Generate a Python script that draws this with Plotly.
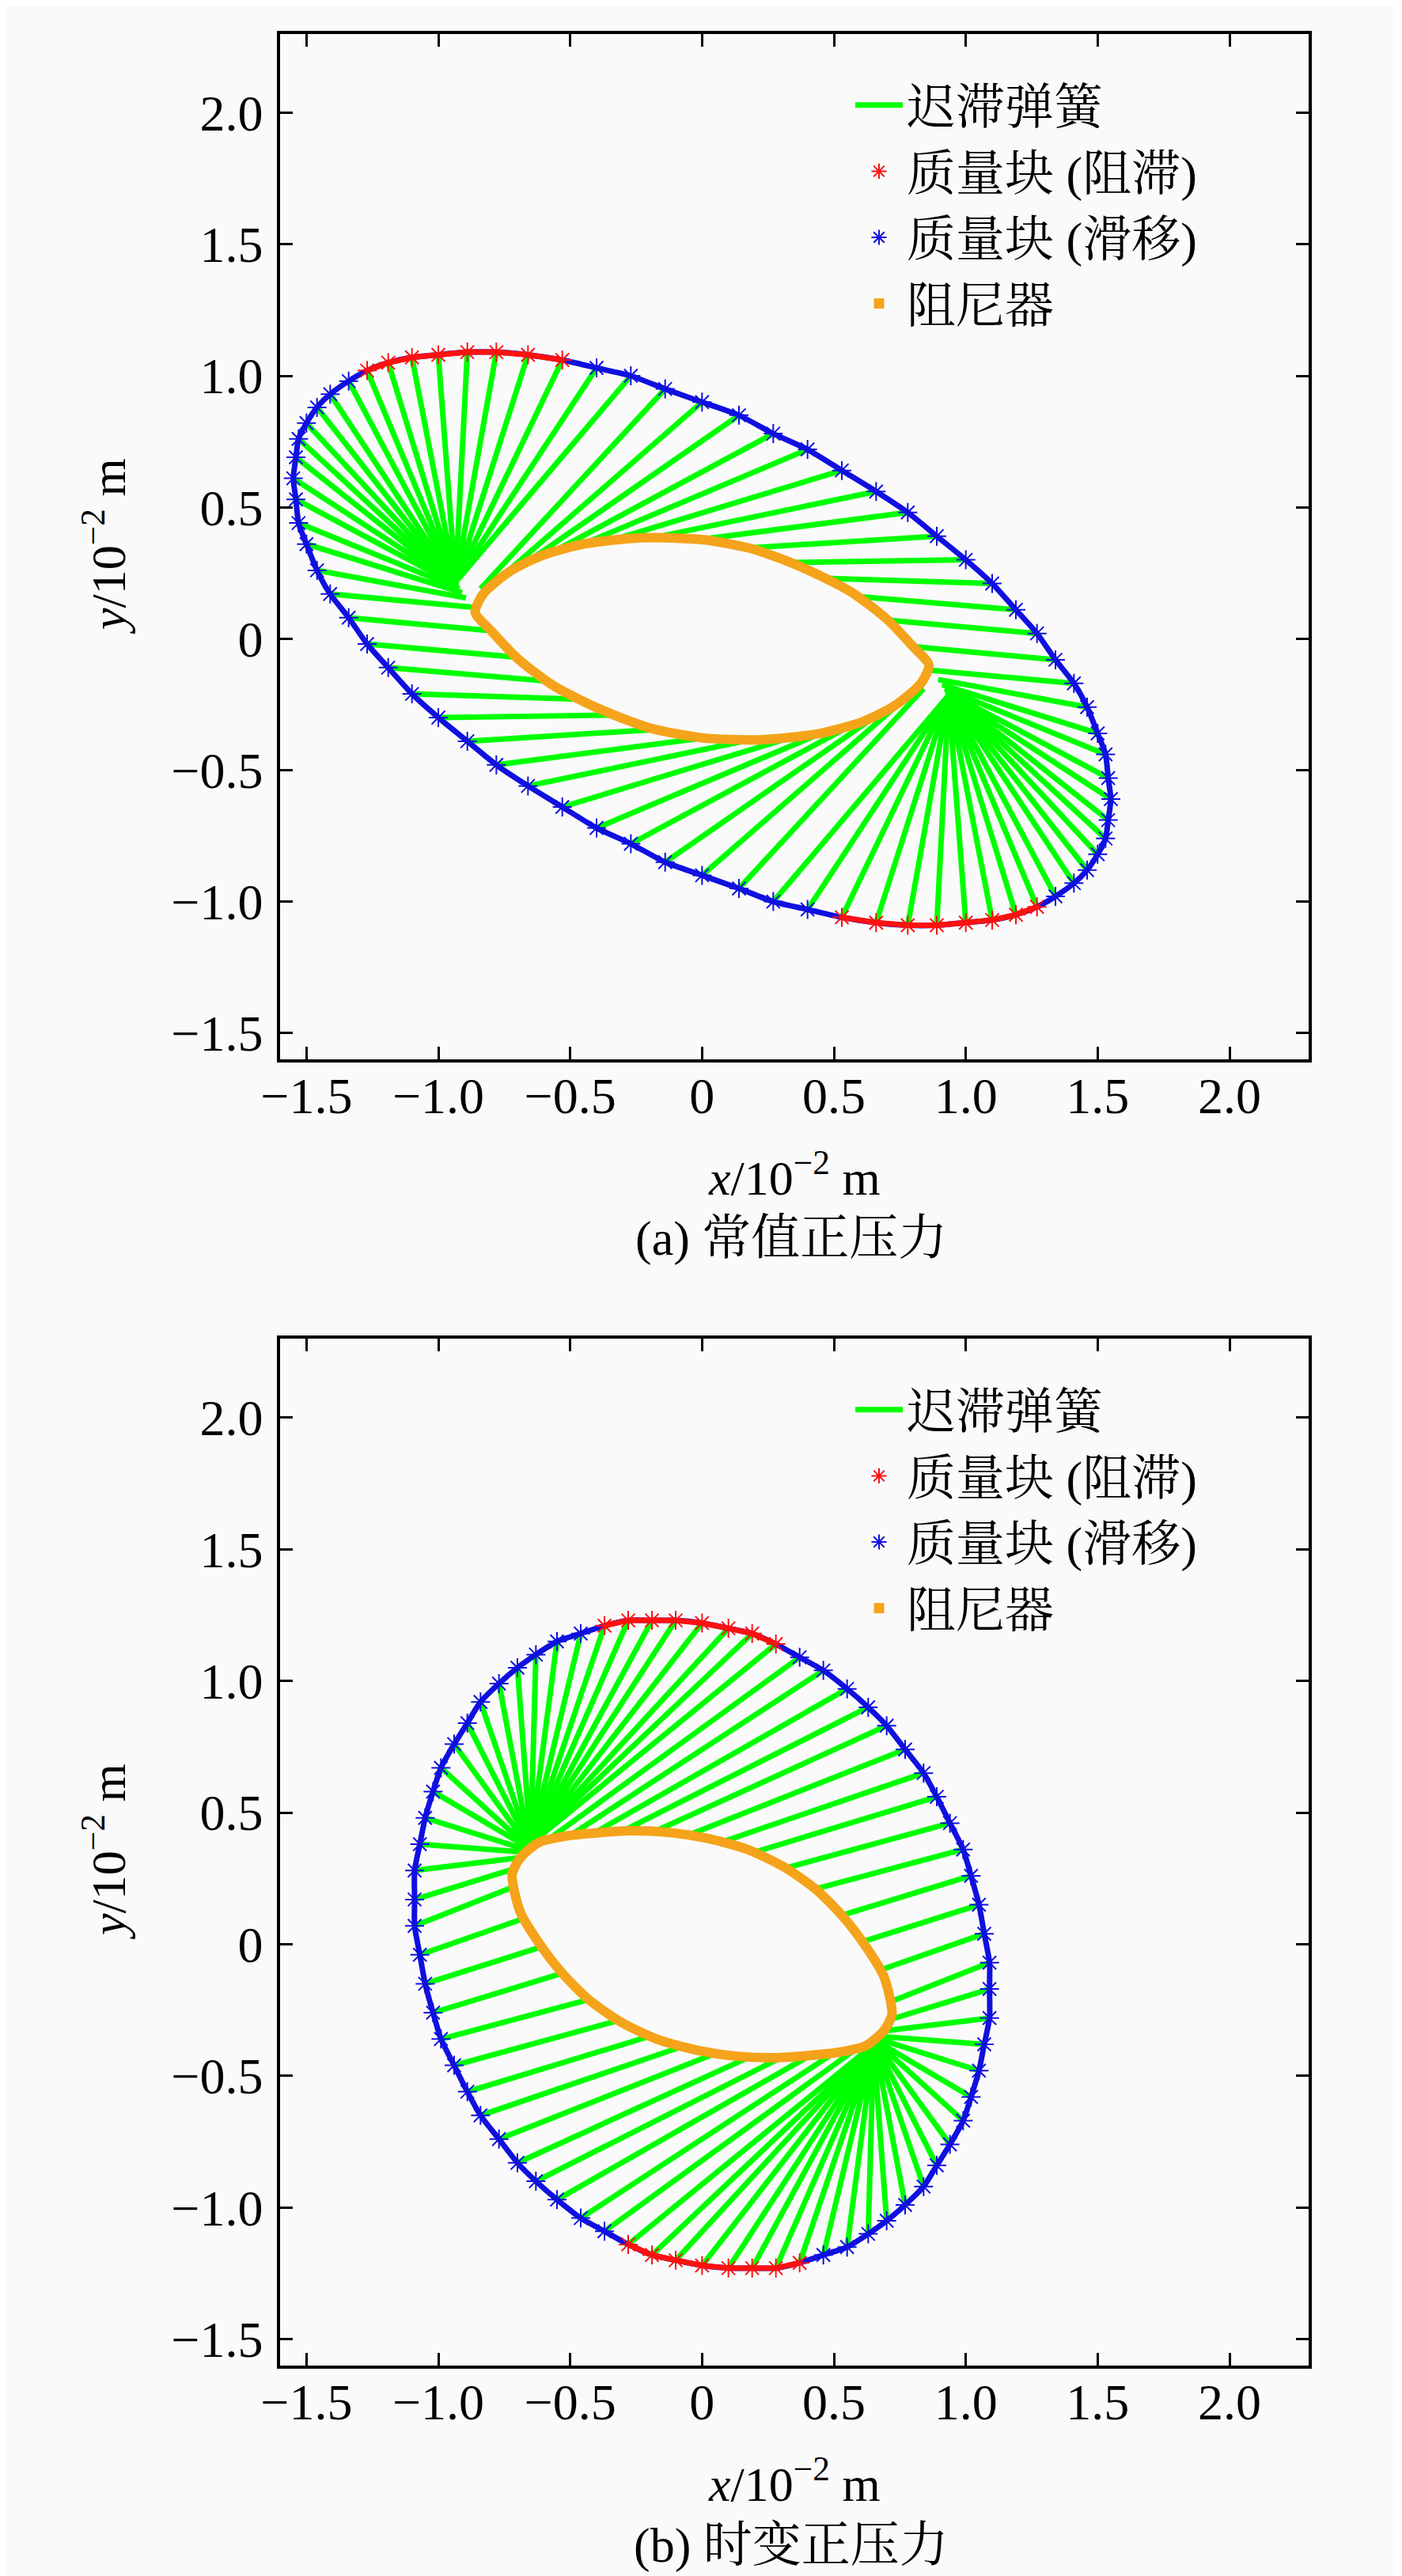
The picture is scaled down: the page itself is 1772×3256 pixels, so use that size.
import plotly.graph_objects as go

# (a) 常值正压力 —— 质量块轨迹, 顺时针, 每根弹簧一个点
a_mass_x = [-0.14, 0.00, 0.14, 0.27, 0.40, 0.53, 0.66, 0.78, 0.89, 1.00, 1.10, 1.19,
            1.27, 1.34, 1.41, 1.46, 1.50, 1.53, 1.54, 1.55, 1.54, 1.53, 1.50, 1.46,
            1.41, 1.34, 1.27, 1.19, 1.10, 1.00, 0.89, 0.78, 0.66, 0.53, 0.40, 0.27,
            0.14, 0.00, -0.14, -0.27, -0.40, -0.53, -0.66, -0.78, -0.89, -1.00, -1.10, -1.19,
            -1.27, -1.34, -1.41, -1.46, -1.50, -1.53, -1.54, -1.55, -1.54, -1.53, -1.50, -1.46,
            -1.41, -1.34, -1.27, -1.19, -1.10, -1.00, -0.89, -0.78, -0.66, -0.53, -0.40, -0.27]
a_mass_y = [0.95, 0.90, 0.85, 0.78, 0.72, 0.64, 0.56, 0.48, 0.39, 0.30, 0.21, 0.11,
            0.02, -0.08, -0.17, -0.26, -0.36, -0.44, -0.53, -0.61, -0.69, -0.76, -0.82, -0.88,
            -0.93, -0.98, -1.02, -1.05, -1.07, -1.08, -1.09, -1.09, -1.08, -1.06, -1.03, -1.00,
            -0.95, -0.90, -0.85, -0.78, -0.72, -0.64, -0.56, -0.48, -0.39, -0.30, -0.21, -0.11,
            -0.02, 0.08, 0.17, 0.26, 0.36, 0.44, 0.53, 0.61, 0.69, 0.76, 0.82, 0.88,
            0.93, 0.98, 1.02, 1.05, 1.07, 1.08, 1.09, 1.09, 1.08, 1.06, 1.03, 1.00]
# 1 = 阻滞, 0 = 滑移
a_stick = [0, 0, 0, 0, 0, 0, 0, 0, 0, 0, 0, 0, 0, 0, 0, 0, 0, 0, 0, 0, 0, 0, 0, 0,
           0, 0, 1, 1, 1, 1, 1, 1, 1, 1, 0, 0,
           0, 0, 0, 0, 0, 0, 0, 0, 0, 0, 0, 0, 0, 0, 0, 0, 0, 0, 0, 0, 0, 0, 0, 0,
           0, 0, 1, 1, 1, 1, 1, 1, 1, 1, 0, 0]
# 弹簧另一端
a_spring_x = [-0.84, -0.75, -0.665, -0.565, -0.45, -0.33, -0.18, -0.01, 0.17, 0.33, 0.47, 0.60,
              0.71, 0.80, 0.87, 0.895, 0.91, 0.92, 0.925, 0.93, 0.93, 0.935, 0.935, 0.935,
              0.935, 0.935, 0.935, 0.935, 0.935, 0.935, 0.935, 0.935, 0.935, 0.935, 0.935, 0.935,
              0.84, 0.75, 0.665, 0.565, 0.45, 0.33, 0.18, 0.01, -0.17, -0.33, -0.47, -0.60,
              -0.71, -0.80, -0.87, -0.895, -0.91, -0.92, -0.925, -0.93, -0.93, -0.935, -0.935, -0.935,
              -0.935, -0.935, -0.935, -0.935, -0.935, -0.935, -0.935, -0.935, -0.935, -0.935, -0.935, -0.935]
a_spring_y = [0.19, 0.245, 0.29, 0.33, 0.36, 0.378, 0.385, 0.377, 0.345, 0.29, 0.23, 0.16,
              0.07, -0.03, -0.12, -0.155, -0.175, -0.19, -0.20, -0.205, -0.205, -0.21, -0.21, -0.21,
              -0.21, -0.215, -0.215, -0.215, -0.215, -0.215, -0.215, -0.215, -0.215, -0.215, -0.215, -0.215,
              -0.19, -0.245, -0.29, -0.33, -0.36, -0.378, -0.385, -0.377, -0.345, -0.29, -0.23, -0.16,
              -0.07, 0.03, 0.12, 0.155, 0.175, 0.19, 0.20, 0.205, 0.205, 0.21, 0.21, 0.21,
              0.21, 0.215, 0.215, 0.215, 0.215, 0.215, 0.215, 0.215, 0.215, 0.215, 0.215, 0.215]
a_damper_x = [-0.86, -0.83, -0.73, -0.61, -0.45, -0.23, 0.00, 0.20, 0.38, 0.56, 0.70, 0.80, 0.86,
              0.83, 0.73, 0.61, 0.45, 0.23, 0.00, -0.20, -0.38, -0.56, -0.70, -0.80, -0.86]
a_damper_y = [0.10, 0.17, 0.255, 0.315, 0.36, 0.384, 0.377, 0.339, 0.271, 0.181, 0.075, -0.03, -0.10,
              -0.17, -0.255, -0.315, -0.36, -0.384, -0.377, -0.339, -0.271, -0.181, -0.075, 0.03, 0.10]

# (b) 时变正压力
b_mass_x = [0.28, 0.37, 0.46, 0.55, 0.63, 0.70, 0.77, 0.84, 0.89, 0.94, 0.99, 1.02,
            1.05, 1.07, 1.09, 1.09, 1.09, 1.07, 1.05, 1.02, 0.99, 0.94, 0.89, 0.84,
            0.77, 0.70, 0.63, 0.55, 0.46, 0.37, 0.28, 0.19, 0.10, 0.00, -0.10, -0.19,
            -0.28, -0.37, -0.46, -0.55, -0.63, -0.70, -0.77, -0.84, -0.89, -0.94, -0.99, -1.02,
            -1.05, -1.07, -1.09, -1.09, -1.09, -1.07, -1.05, -1.02, -0.99, -0.94, -0.89, -0.84,
            -0.77, -0.70, -0.63, -0.55, -0.46, -0.37, -0.28, -0.19, -0.10, 0.00, 0.10, 0.19]
b_mass_y = [1.14, 1.09, 1.04, 0.97, 0.90, 0.83, 0.74, 0.65, 0.56, 0.46, 0.36, 0.26,
            0.15, 0.04, -0.07, -0.17, -0.28, -0.38, -0.48, -0.58, -0.67, -0.76, -0.84, -0.92,
            -0.99, -1.05, -1.10, -1.15, -1.18, -1.21, -1.23, -1.23, -1.23, -1.22, -1.20, -1.18,
            -1.14, -1.09, -1.04, -0.97, -0.90, -0.83, -0.74, -0.65, -0.56, -0.46, -0.36, -0.26,
            -0.15, -0.04, 0.07, 0.17, 0.28, 0.38, 0.48, 0.58, 0.67, 0.76, 0.84, 0.92,
            0.99, 1.05, 1.10, 1.15, 1.18, 1.21, 1.23, 1.23, 1.23, 1.22, 1.20, 1.18]
b_stick = [1, 0, 0, 0, 0, 0, 0, 0, 0, 0, 0, 0, 0, 0, 0, 0, 0, 0, 0, 0, 0, 0, 0, 0,
           0, 0, 0, 0, 0, 1, 1, 1, 1, 1, 1, 1,
           1, 0, 0, 0, 0, 0, 0, 0, 0, 0, 0, 0, 0, 0, 0, 0, 0, 0, 0, 0, 0, 0, 0, 0,
           0, 0, 0, 0, 0, 1, 1, 1, 1, 1, 1, 1]
b_spring_x = [-0.64, -0.58, -0.50, -0.41, -0.30, -0.18, -0.05, 0.08, 0.20, 0.32, 0.43, 0.53,
              0.61, 0.67, 0.71, 0.70, 0.685, 0.675, 0.67, 0.665, 0.66, 0.66, 0.655, 0.655,
              0.655, 0.65, 0.65, 0.65, 0.65, 0.65, 0.65, 0.65, 0.65, 0.65, 0.65, 0.65,
              0.64, 0.58, 0.50, 0.41, 0.30, 0.18, 0.05, -0.08, -0.20, -0.32, -0.43, -0.53,
              -0.61, -0.67, -0.71, -0.70, -0.685, -0.675, -0.67, -0.665, -0.66, -0.66, -0.655, -0.655,
              -0.655, -0.65, -0.65, -0.65, -0.65, -0.65, -0.65, -0.65, -0.65, -0.65, -0.65, -0.65]
b_spring_y = [0.39, 0.40, 0.413, 0.422, 0.43, 0.428, 0.415, 0.39, 0.35, 0.29, 0.21, 0.11,
              0.01, -0.10, -0.22, -0.29, -0.33, -0.35, -0.36, -0.37, -0.37, -0.375, -0.375, -0.38,
              -0.38, -0.38, -0.38, -0.385, -0.385, -0.385, -0.385, -0.385, -0.385, -0.385, -0.385, -0.385,
              -0.39, -0.40, -0.413, -0.422, -0.43, -0.428, -0.415, -0.39, -0.35, -0.29, -0.21, -0.11,
              -0.01, 0.10, 0.22, 0.29, 0.33, 0.35, 0.36, 0.37, 0.37, 0.375, 0.375, 0.38,
              0.38, 0.38, 0.38, 0.385, 0.385, 0.385, 0.385, 0.385, 0.385, 0.385, 0.385, 0.385]
b_damper_x = [-0.72, -0.69, -0.62, -0.515, -0.41, -0.27, -0.12, 0.02, 0.17, 0.31, 0.43, 0.53, 0.62, 0.69, 0.72,
              0.69, 0.62, 0.515, 0.41, 0.27, 0.12, -0.02, -0.17, -0.31, -0.43, -0.53, -0.62, -0.69, -0.72]
b_damper_y = [0.265, 0.327, 0.386, 0.411, 0.422, 0.431, 0.424, 0.402, 0.361, 0.294, 0.21, 0.11, -0.007, -0.124, -0.265,
              -0.327, -0.386, -0.411, -0.422, -0.431, -0.424, -0.402, -0.361, -0.294, -0.21, -0.11, 0.007, 0.124, 0.265]

tick_vals = [-1.5, -1.0, -0.5, 0, 0.5, 1.0, 1.5, 2.0]
tick_text = ["\u22121.5", "\u22121.0", "\u22120.5", "0", "0.5", "1.0", "1.5", "2.0"]
names = ["迟滞弹簧", "质量块 (阻滞)", "质量块 (滑移)", "阻尼器"]
captions = ["(a) 常值正压力", "(b) 时变正压力"]

SERIF = "Liberation Serif, Times New Roman, Noto Serif CJK SC, Noto Sans CJK SC, serif"
GREEN, RED, BLUE, ORANGE = "#00ff00", "#ff1010", "#1010e0", "#f5a31a"


def add_panel(fig, mx, my, stick, sx, sy, dx, dy, xa, ya, leg):
    n = len(mx)
    lx, ly = [], []
    for i in range(n):
        lx += [mx[i], sx[i], None]
        ly += [my[i], sy[i], None]
    fig.add_trace(go.Scatter(x=lx, y=ly, mode="lines", line=dict(color=GREEN, width=7),
                             name=names[0], xaxis=xa, yaxis=ya, legend=leg))
    fig.add_trace(go.Scatter(x=dx, y=dy, mode="lines",
                             line=dict(color=ORANGE, width=12, shape="spline", smoothing=0.7),
                             showlegend=False, xaxis=xa, yaxis=ya, hoverinfo="skip"))
    # 质量块轨迹底线
    fig.add_trace(go.Scatter(x=mx + [mx[0]], y=my + [my[0]], mode="lines",
                             line=dict(color=BLUE, width=7, shape="spline", smoothing=0.6),
                             showlegend=False, xaxis=xa, yaxis=ya, hoverinfo="skip"))
    rx, ry = [], []
    for i in range(n):
        j = (i + 1) % n
        if stick[i] and stick[j]:
            rx += [mx[i], mx[j], None]
            ry += [my[i], my[j], None]
    fig.add_trace(go.Scatter(x=rx, y=ry, mode="lines", line=dict(color=RED, width=7),
                             showlegend=False, xaxis=xa, yaxis=ya, hoverinfo="skip"))
    for flag, col, nm in [(1, RED, names[1]), (0, BLUE, names[2])]:
        px = [mx[i] for i in range(n) if stick[i] == flag]
        py = [my[i] for i in range(n) if stick[i] == flag]
        fig.add_trace(go.Scatter(x=px, y=py, mode="markers", name=nm,
                                 marker=dict(symbol="asterisk-open", size=20, color=col,
                                             line=dict(color=col, width=2)),
                                 xaxis=xa, yaxis=ya, legend=leg))
    fig.add_trace(go.Scatter(x=[None], y=[None], mode="markers", name=names[3],
                             marker=dict(symbol="square", size=13, color=ORANGE),
                             xaxis=xa, yaxis=ya, legend=leg))


fig = go.Figure()
add_panel(fig, a_mass_x, a_mass_y, a_stick, a_spring_x, a_spring_y, a_damper_x, a_damper_y, "x", "y", "legend")
add_panel(fig, b_mass_x, b_mass_y, b_stick, b_spring_x, b_spring_y, b_damper_x, b_damper_y, "x2", "y2", "legend2")

W, H = 1772, 3256
axis_style = dict(range=[-1.6, 2.3], showgrid=False, zeroline=False, showline=True, mirror="ticks",
                  linecolor="black", linewidth=3.5, ticks="inside", ticklen=16, tickwidth=2.5,
                  tickcolor="black", tickvals=tick_vals, ticktext=tick_text,
                  tickfont=dict(family=SERIF, size=64, color="black"), automargin=False)
xdom = [346 / W, 1646 / W]
legend_style = dict(xanchor="left", yanchor="top", bgcolor="rgba(0,0,0,0)",
                    font=dict(family=SERIF, size=62, color="black"), itemwidth=60)
fig.update_layout(
    width=W, height=H, template="none",
    paper_bgcolor="#fafafa", plot_bgcolor="#fafafa",
    margin=dict(l=0, r=0, t=0, b=0),
    showlegend=True,
    xaxis=dict(axis_style, domain=xdom, anchor="y", ticklabelstandoff=-13),
    yaxis=dict(axis_style, domain=[1 - 1331 / H, 1 - 35 / H], anchor="x", ticklabelstandoff=5),
    xaxis2=dict(axis_style, domain=xdom, anchor="y2", ticklabelstandoff=-13),
    yaxis2=dict(axis_style, domain=[1 - 2982 / H, 1 - 1684 / H], anchor="x2", ticklabelstandoff=5),
    legend=dict(legend_style, x=1068 / W, y=1 - 78 / H),
    legend2=dict(legend_style, x=1068 / W, y=1 - 1727 / H),
)

ann = []
for top, bottom, cap in [(35, 1331, captions[0]), (1684, 2982, captions[1])]:
    ann.append(dict(text="<i>x</i>/10<sup>\u22122</sup> m", x=996 / W, y=1 - (bottom + 145) / H))
    ann.append(dict(text=cap, x=992 / W, y=1 - (bottom + 227) / H))
    ann.append(dict(text="<i>y</i>/10<sup>\u22122</sup> m", x=124 / W, y=1 - (top + bottom) / 2 / H,
                    textangle=-90))
for a in ann:
    a.update(xref="paper", yref="paper", showarrow=False, xanchor="center", yanchor="middle",
             font=dict(family=SERIF, size=62, color="black"))
fig.update_layout(annotations=ann)

fig.write_html("out.html")
